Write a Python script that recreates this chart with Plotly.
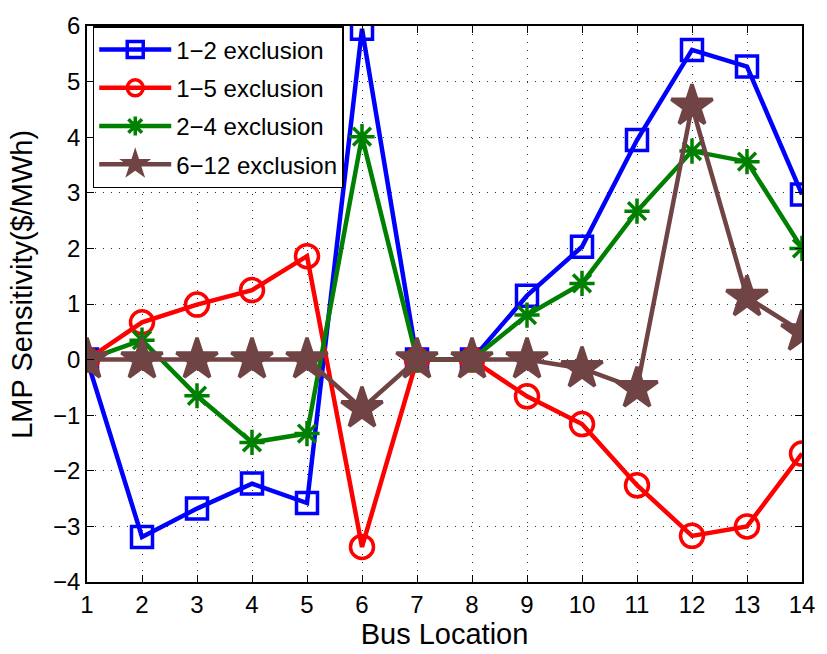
import plotly.graph_objects as go

bus = list(range(1, 15))

excl_1_2 = [0, -3.19, -2.68, -2.23, -2.58, 5.95, 0, 0, 1.15, 2.03, 3.95, 5.57, 5.27, 2.97]
excl_1_5 = [0, 0.67, 0.99, 1.25, 1.86, -3.37, 0, 0, -0.66, -1.16, -2.26, -3.17, -3.0, -1.69]
excl_2_4 = [0, 0.35, -0.65, -1.49, -1.33, 4.01, 0, 0, 0.8, 1.37, 2.67, 3.75, 3.56, 2.0]
excl_6_12 = [0, 0, 0, 0, 0, -0.88, 0, 0, 0, -0.16, -0.52, 4.56, 1.12, 0.5]

series = [
    ("1\u22122 exclusion", excl_1_2, "#0000ff", "square-open", 21),
    ("1\u22125 exclusion", excl_1_5, "#ff0000", "circle-open", 23),
    ("2\u22124 exclusion", excl_2_4, "#008000", "asterisk-open", 21),
    ("6\u221212 exclusion", excl_6_12, "#704444", "star", 31),
]

fig = go.Figure()
for i, (name, vals, color, symbol, size) in enumerate(series):
    fig.add_trace(go.Scatter(
        x=bus, y=vals, name=name, mode="lines+markers",
        legendgroup=f"g{i}",
        line=dict(color=color, width=4.5),
        marker=dict(symbol=symbol, size=size, color=color,
                    line=dict(color=color, width=3.5)),
    ))

axis_common = dict(
    showline=True, linecolor="black", linewidth=1.8, mirror="ticks",
    ticks="inside", ticklen=7, tickcolor="black", tickwidth=1,
    showgrid=True, gridcolor="#333333", griddash="1px,7px", gridwidth=1,
    zeroline=False,
    tickfont=dict(family="Liberation Sans", size=24, color="black"),
)

fig.update_layout(
    width=827, height=654,
    margin=dict(l=87, r=19, t=17, b=71),
    paper_bgcolor="white", plot_bgcolor="white",
    font=dict(family="Liberation Sans", color="black"),
    xaxis=dict(range=[1, 14], dtick=1, tick0=1,
               title=dict(text="Bus Location", font=dict(size=29), standoff=4),
               **axis_common),
    yaxis=dict(range=[-4, 6], dtick=1, **axis_common),
    legend=dict(x=0.008, y=1.0, xanchor="left", yanchor="top",
                bgcolor="white", bordercolor="black", borderwidth=1.5,
                font=dict(size=24, color="black"),
                traceorder="grouped", tracegroupgap=4,
                itemwidth=72),
    showlegend=True,
    annotations=[dict(
        text="LMP Sensitivity($/MWh)", textangle=-90,
        xref="paper", yref="paper", x=-0.092, y=0.535,
        xanchor="center", yanchor="middle", showarrow=False,
        font=dict(size=29, color="black"),
    )],
)

fig.write_html("out.html")
